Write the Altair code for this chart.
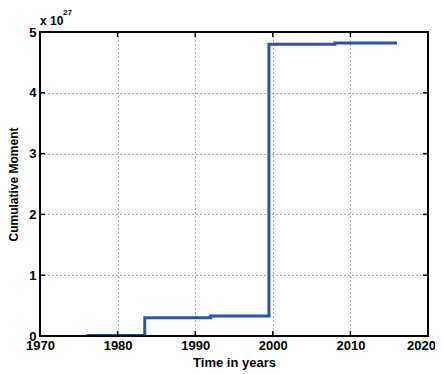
import altair as alt
import pandas as pd

years = [1976.0, 1983.5, 1992.0, 1999.5, 2008.0, 2016.0]
moment = [0.01, 0.30, 0.33, 4.80, 4.82, 4.82]  # in units of 1e27
x_ticks = [1970, 1980, 1990, 2000, 2010, 2020]
y_ticks = [0, 1, 2, 3, 4, 5]

df = pd.DataFrame({"year": years, "moment": moment})
xt = pd.DataFrame({"year": x_ticks})
yt = pd.DataFrame({"moment": y_ticks})

FONT = "Liberation Sans"
W, H = 388, 304

xscale = alt.Scale(domain=[1970, 2020], nice=False, zero=False)
yscale = alt.Scale(domain=[0, 5], nice=False)

x = alt.X("year:Q", scale=xscale,
          axis=alt.Axis(title="Time in years", values=x_ticks,
                        format="d", grid=True, gridDash=[1, 3], gridColor="#555555",
                        gridWidth=1, domain=False, ticks=False, labelPadding=3,
                        labelFlush=False,
                        labelOffset={"condition": {"test": "datum.value == 2020", "value": -7}, "value": 0},
                        labelFontSize=13, labelFontWeight="bold", labelFont=FONT,
                        labelColor="black", titleFontSize=13, titleFont=FONT,
                        titleFontWeight="bold", titleColor="black", titlePadding=4))
y = alt.Y("moment:Q", scale=yscale,
          axis=alt.Axis(title="Cumulative Moment", values=y_ticks,
                        grid=True, gridDash=[1, 3], gridColor="#555555", gridWidth=1,
                        domain=False, ticks=False, labelPadding=4, labelFlush=False,
                        labelFontSize=13, labelFontWeight="bold", labelFont=FONT,
                        labelColor="black", titleFontSize=12, titleFont=FONT,
                        titleFontWeight="bold", titleColor="black", titlePadding=8))

red = alt.Chart(df).mark_line(interpolate="step-after", color="#e04040", strokeWidth=1).encode(x=x, y=y)
blue = alt.Chart(df).mark_line(interpolate="step-after", color="#2456a6", strokeWidth=3).encode(x=x, y=y)

tick_style = dict(color="black", strokeWidth=1.5)
xt_bot = alt.Chart(xt).mark_rule(**tick_style).encode(x=x, y=alt.value(H), y2=alt.value(H - 5))
xt_top = alt.Chart(xt).mark_rule(**tick_style).encode(x=x, y=alt.value(0), y2=alt.value(5))
yt_left = alt.Chart(yt).mark_rule(**tick_style).encode(y=y, x=alt.value(0), x2=alt.value(5))
yt_right = alt.Chart(yt).mark_rule(**tick_style).encode(y=y, x=alt.value(W), x2=alt.value(W - 5))

frame = alt.Chart(pd.DataFrame({"a": [0]})).mark_rect(
    fill=None, stroke="black", strokeWidth=2
).encode(x=alt.value(0), x2=alt.value(W), y=alt.value(0), y2=alt.value(H))

expo = alt.Chart(pd.DataFrame({"t": ["x 10"]})).mark_text(
    align="left", baseline="bottom", font=FONT, fontWeight="bold", fontSize=12, color="black"
).encode(text="t:N", x=alt.value(0), y=alt.value(-4))
expo2 = alt.Chart(pd.DataFrame({"t": ["27"]})).mark_text(
    align="left", baseline="bottom", font=FONT, fontWeight="bold", fontSize=8, color="black"
).encode(text="t:N", x=alt.value(23), y=alt.value(-15))

chart = alt.layer(red, blue, xt_bot, xt_top, yt_left, yt_right, frame, expo, expo2).properties(
    width=W, height=H,
    padding={"left": 32, "top": 24, "right": 7, "bottom": 36},
    autosize=alt.AutoSizeParams(type="none"),
).configure_view(stroke=None).configure(background="white")

chart.save("out.html", embed_options={"renderer": "svg", "actions": False})
